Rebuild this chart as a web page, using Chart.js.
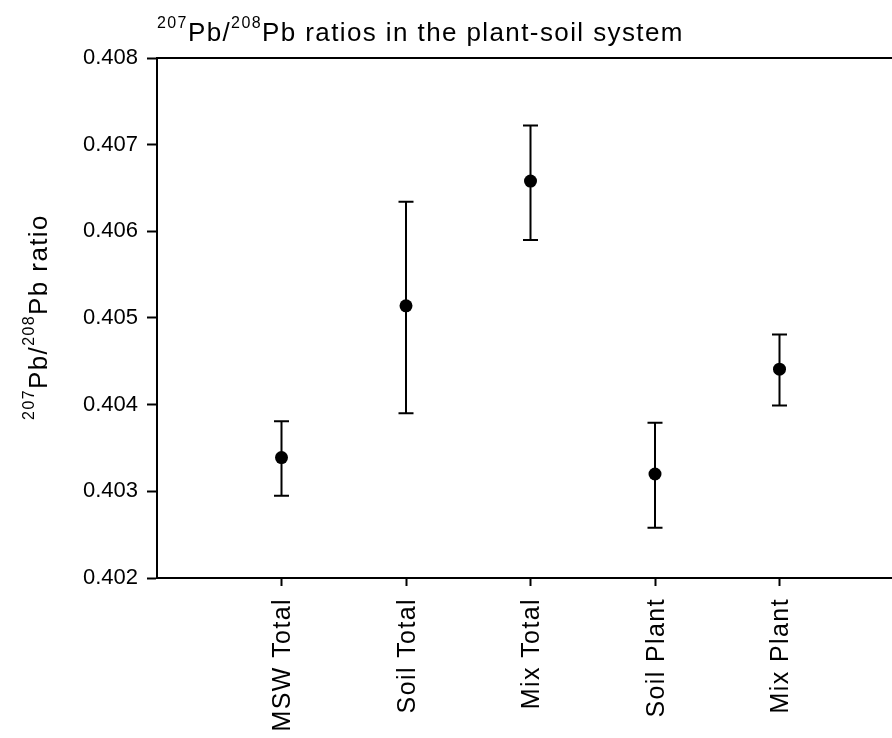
<!DOCTYPE html>
<html>
<head>
<meta charset="utf-8">
<script src="https://cdn.jsdelivr.net/npm/chart.js@4"></script>
<style>
  html, body { margin: 0; padding: 0; background: #fff; overflow: hidden; }
</style>
</head>
<body>
<canvas id="grafico" width="920" height="738"></canvas>
<script>
const categorias = ["MSW Total", "Soil Total", "Mix Total", "Soil Plant", "Mix Plant"];
const medias = [0.40339, 0.40514, 0.40658, 0.40320, 0.40441];
const superior = [0.40381, 0.40634, 0.40722, 0.40379, 0.40481];
const inferior = [0.40295, 0.40390, 0.40590, 0.40258, 0.40399];
const yTicks = [0.402, 0.403, 0.404, 0.405, 0.406, 0.407, 0.408];

const fuente = "'Liberation Sans', Arial, sans-serif";

// texto con superindices: partes [texto, esSup]
function textoSup(ctx, partes, x, y, tam, tamSup, subida, centrado) {
    const anchos = partes.map(p => {
        ctx.font = (p[1] ? tamSup : tam) + "px " + fuente;
        return ctx.measureText(p[0]).width;
    });
    const total = anchos.reduce((a, b) => a + b, 0);
    let cx = centrado ? x - total / 2 : x;
    partes.forEach((p, i) => {
        ctx.font = (p[1] ? tamSup : tam) + "px " + fuente;
        ctx.fillText(p[0], cx, p[1] ? y - subida : y);
        cx += anchos[i];
    });
}

const barrasError = {
    id: "barrasError",
    beforeDatasetsDraw(chart) {
        const { ctx, scales: { x, y } } = chart;
        ctx.save();
        ctx.strokeStyle = "#000";
        ctx.lineWidth = 2;
        medias.forEach((m, i) => {
            const px = x.getPixelForValue(i + 1);
            const arriba = y.getPixelForValue(superior[i]);
            const abajo = y.getPixelForValue(inferior[i]);
            ctx.beginPath();
            ctx.moveTo(px, arriba);
            ctx.lineTo(px, abajo);
            ctx.moveTo(px - 7.5, arriba);
            ctx.lineTo(px + 7.5, arriba);
            ctx.moveTo(px - 7.5, abajo);
            ctx.lineTo(px + 7.5, abajo);
            ctx.stroke();
        });
        ctx.restore();
    }
};

const textos = {
    id: "textos",
    afterDraw(chart) {
        const { ctx, scales: { x } } = chart;
        ctx.save();
        ctx.fillStyle = "#000";
        ctx.letterSpacing = "1.4px";
        ctx.textBaseline = "alphabetic";

        // titulo
        ctx.textAlign = "left";
        textoSup(ctx, [["207", true], ["Pb/", false], ["208", true], ["Pb ratios in the plant-soil system", false]],
            157, 41, 26, 16, 13, false);

        // titulo eje y
        ctx.save();
        ctx.translate(47, 317);
        ctx.rotate(-Math.PI / 2);
        textoSup(ctx, [["207", true], ["Pb/", false], ["208", true], ["Pb ratio", false]],
            0, 0, 26, 16, 13, true);
        ctx.restore();

        // etiquetas del eje x
        ctx.font = "25px " + fuente;
        ctx.textAlign = "right";
        categorias.forEach((c, i) => {
            const px = x.getPixelForValue(i + 1);
            ctx.save();
            ctx.translate(px + 8.5, 598);
            ctx.rotate(-Math.PI / 2);
            ctx.fillText(c, 0, 0);
            ctx.restore();
        });
        ctx.restore();
    }
};

new Chart(document.getElementById("grafico"), {
    type: "scatter",
    data: {
        datasets: [{
            data: medias.map((m, i) => ({ x: i + 1, y: m })),
            pointRadius: 6.5,
            pointHoverRadius: 6.5,
            backgroundColor: "#000",
            borderColor: "#000",
            borderWidth: 0
        }]
    },
    options: {
        responsive: false,
        animation: false,
        layout: { padding: { top: 58, right: 16, bottom: 0, left: 0 } },
        plugins: {
            legend: { display: false },
            tooltip: { enabled: false },
            title: { display: false }
        },
        scales: {
            x: {
                type: "linear",
                position: "bottom",
                min: 0,
                max: 6,
                afterBuildTicks: s => { s.ticks = categorias.map((c, i) => ({ value: i + 1 })); },
                afterFit: s => { s.height = 160; },
                ticks: { display: false },
                grid: { drawOnChartArea: false, tickLength: 8, tickColor: "#000", tickWidth: 2 },
                border: { color: "#000", width: 2 }
            },
            xArriba: {
                type: "linear",
                position: "top",
                min: 0,
                max: 6,
                afterFit: s => { s.height = 0; },
                ticks: { display: false },
                grid: { display: false, drawTicks: false },
                border: { color: "#000", width: 2 }
            },
            y: {
                min: 0.402,
                max: 0.408,
                afterBuildTicks: s => { s.ticks = yTicks.map(v => ({ value: v })); },
                afterFit: s => { s.width = 157; },
                ticks: {
                    color: "#000",
                    padding: 9,
                    font: { family: fuente, size: 22 },
                    callback: v => v.toFixed(3)
                },
                grid: { drawOnChartArea: false, tickLength: 10, tickColor: "#000", tickWidth: 2 },
                border: { color: "#000", width: 2 }
            }
        }
    },
    plugins: [barrasError, textos]
});
</script>
</body>
</html>
